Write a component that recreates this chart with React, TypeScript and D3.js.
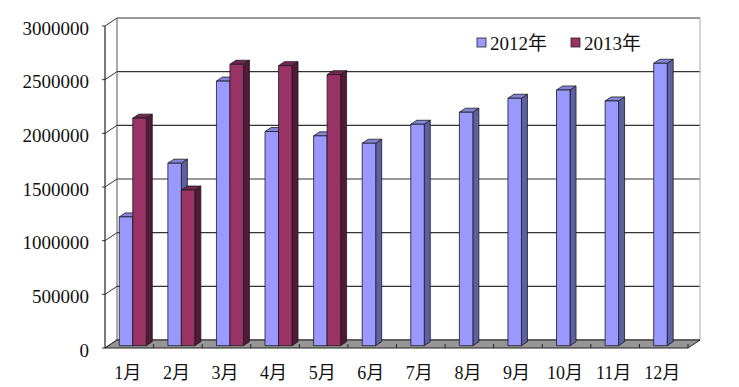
import React from "react";
import * as d3 from "d3";

const months = ["1月", "2月", "3月", "4月", "5月", "6月", "7月", "8月", "9月", "10月", "11月", "12月"];
const seriesNames = ["2012年", "2013年"];
const values2012 = [1200000, 1700000, 2465000, 1995000, 1955000, 1886000, 2063000, 2175000, 2305000, 2382000, 2280000, 2631000];
const values2013: (number | null)[] = [2120000, 1450000, 2622000, 2609000, 2525000, null, null, null, null, null, null, null];
const yTicks = [0, 500000, 1000000, 1500000, 2000000, 2500000, 3000000];

const W = 739, H = 387;
const DX = 12, DY = -8; // depth offset
const F0 = 0.29, F1 = 0.79; // bar depth fractions
const FONT = "'Liberation Serif', 'Times New Roman', 'Noto Sans CJK SC', serif";

const colors = [
  { front: "#9999ff", side: "#5f5fa3", top: "#8585d8" },
  { front: "#993366", side: "#521a36", top: "#742650" },
];

export default function App() {
  const x = d3.scaleBand<string>().domain(months).range([105, 688]).padding(0);
  const inner = d3.scaleBand<string>().domain(seriesNames).range([0, x.bandwidth()]).paddingInner(0).paddingOuter(0.8);
  const y = d3.scaleLinear().domain([0, 3000000]).range([348, 26]);

  const bars: React.ReactNode[] = [];
  months.forEach((m, i) => {
    const vals = [values2012[i], values2013[i]];
    vals.forEach((v, s) => {
      if (v == null) return;
      const c = colors[s];
      const bx = (x(m) as number) + (inner(seriesNames[s]) as number) + DX * F0;
      const bw = inner.bandwidth();
      const yb = y(0) + DY * F0;
      const yt = y(v) + DY * F0;
      const ddx = DX * (F1 - F0), ddy = DY * (F1 - F0);
      bars.push(
        <g key={m + s} stroke="#1a1a1a" strokeWidth={0.8} strokeLinejoin="round">
          <polygon points={`${bx + bw},${yt} ${bx + bw + ddx},${yt + ddy} ${bx + bw + ddx},${yb + ddy} ${bx + bw},${yb}`} fill={c.side} />
          <polygon points={`${bx},${yt} ${bx + ddx},${yt + ddy} ${bx + bw + ddx},${yt + ddy} ${bx + bw},${yt}`} fill={c.top} />
          <rect x={bx} y={yt} width={bw} height={yb - yt} fill={c.front} />
        </g>
      );
    });
  });

  const x0 = 105, x1 = 688;
  return (
    <svg width={W} height={H} style={{ position: "absolute", left: 0, top: 0, background: "#fff" }} fontFamily={FONT}>
      <rect width={W} height={H} fill="#fff" />
      {yTicks.map((t) => (
        <line key={"g" + t} x1={x0 + DX} x2={x1 + DX} y1={y(t) + DY} y2={y(t) + DY} stroke="#333" strokeWidth={1.2} />
      ))}
      {yTicks.map((t) => (
        <line key={"lw" + t} x1={x0} x2={x0 + DX} y1={y(t)} y2={y(t) + DY} stroke="#333" strokeWidth={1} />
      ))}
      {yTicks.map((t) => (
        <line key={"tk" + t} x1={x0 - 3} x2={x0} y1={y(t)} y2={y(t)} stroke="#333" strokeWidth={1} />
      ))}
      <line x1={x0 + DX} x2={x0 + DX} y1={y(3000000) + DY} y2={y(0) + DY} stroke="#555" strokeWidth={1} />
      <line x1={x1 + DX} x2={x1 + DX} y1={y(3000000) + DY} y2={y(0) + DY} stroke="#aaa" strokeWidth={1} />
      <polygon
        points={`${x0},${y(0)} ${x1},${y(0)} ${x1 + DX},${y(0) + DY} ${x0 + DX},${y(0) + DY}`}
        fill="#969696"
        stroke="#222"
        strokeWidth={1}
      />
      {months.map((m) => (
        <line key={"ct" + m} x1={(x(m) as number) + x.bandwidth()} x2={(x(m) as number) + x.bandwidth()} y1={y(0) - 4} y2={y(0)} stroke="#222" strokeWidth={1} />
      ))}
      <line x1={x0} x2={x0} y1={y(3000000)} y2={y(0)} stroke="#222" strokeWidth={1.2} />
      {bars}
      {yTicks.map((t) => (
        <text key={"yl" + t} x={89} y={y(t) + 2} textAnchor="end" dominantBaseline="central" fontSize={19} fill="#111">
          {t}
        </text>
      ))}
      {months.map((m) => (
        <text key={"xl" + m} x={(x(m) as number) + x.bandwidth() / 2 - 1.5} y={373} textAnchor="middle" dominantBaseline="central" fontSize={18} fill="#111">
          {m}
        </text>
      ))}
      {seriesNames.map((s, i) => {
        const lx = [477, 571][i];
        return (
          <g key={"lg" + s}>
            <rect x={lx} y={38} width={9} height={9} fill={colors[i].front} stroke="#222" strokeWidth={0.8} />
            <text x={lx + 13} y={43} dominantBaseline="central" fontSize={19} fill="#111">
              {s}
            </text>
          </g>
        );
      })}
    </svg>
  );
}
